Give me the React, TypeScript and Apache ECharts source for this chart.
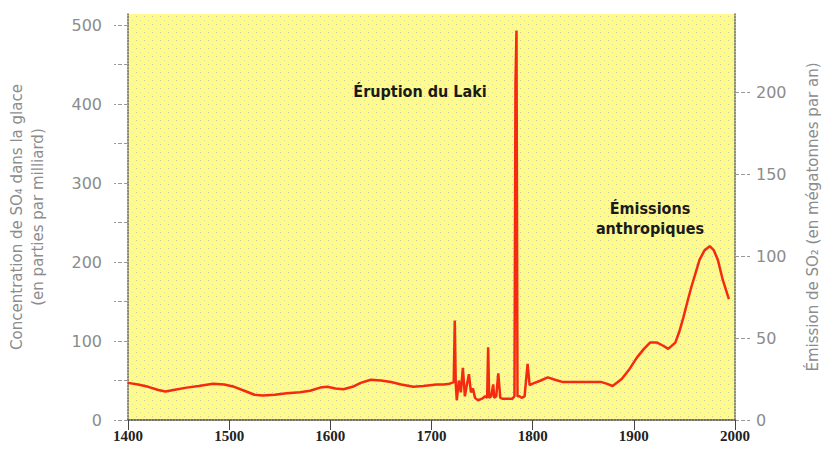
import React, { useEffect, useRef } from "react";
import * as echarts from "echarts";

// Year of each sample
const years = [
  1400, 1410, 1420, 1430, 1437, 1445, 1458, 1470, 1484, 1495, 1505, 1515, 1525, 1533, 1545, 1557,
  1570, 1580, 1590, 1597, 1605, 1613, 1622, 1630, 1640, 1650, 1660, 1670, 1682, 1692, 1705, 1712,
  1718, 1720, 1722, 1723, 1724, 1725, 1727, 1729, 1731, 1733, 1735, 1737, 1739, 1741, 1743, 1746,
  1750, 1753, 1755, 1756, 1757, 1759, 1761, 1762, 1764, 1766, 1768, 1770, 1780, 1782, 1783, 1784,
  1785, 1787, 1789, 1792, 1795, 1797, 1800, 1808, 1815, 1822, 1830, 1850, 1868, 1873, 1879, 1888,
  1896, 1903, 1910, 1916, 1923, 1929, 1934, 1941, 1945, 1949, 1953, 1957, 1961, 1965, 1970, 1975,
  1979, 1983, 1988, 1994,
];
// SO4 concentration in ice (parts per billion)
const so4 = [
  47, 45, 42, 38, 36, 38, 41, 43, 46, 45, 42, 37, 32, 31, 32, 34,
  35, 37, 41, 42, 40, 39, 42, 47, 51, 50, 48, 45, 42, 43, 45, 45,
  46, 47, 48, 126, 45, 25, 50, 35, 66, 30, 45, 58, 35, 40, 28, 25,
  27, 30, 28, 92, 28, 30, 45, 28, 30, 59, 28, 27, 27, 30, 425, 493,
  30, 30, 28, 30, 71, 44, 46, 50, 54, 51, 48, 48, 48, 46, 43, 52,
  65, 79, 90, 98, 98, 94, 90, 98, 112, 130, 150, 169, 186, 203, 215, 220,
  215, 203, 177, 153,
];

const xTicks = [1400, 1500, 1600, 1700, 1800, 1900, 2000];
const leftTicks = [0, 50, 100, 150, 200, 250, 300, 350, 400, 450, 500];
const leftLabels = [0, 100, 200, 300, 400, 500];
const rightTicks = [0, 50, 100, 150, 200];

const leftName = "Concentration de SO\u2084 dans la glace\n(en parties par milliard)";
const rightName = "\u00c9mission de SO\u2082 (en m\u00e9gatonnes par an)";
const note1 = "\u00c9ruption du Laki";
const note2 = "\u00c9missions\nanthropiques";

function makePattern(): any {
  const c = document.createElement("canvas");
  c.width = 8;
  c.height = 8;
  const ctx = c.getContext("2d");
  if (!ctx) return "#fff98e";
  ctx.fillStyle = "#fff98e";
  ctx.fillRect(0, 0, 8, 8);
  ctx.fillStyle = "#c8c8a4";
  ctx.fillRect(0, 0, 1, 1);
  ctx.fillStyle = "#c4f09c";
  ctx.fillRect(4, 4, 1, 1);
  return { image: c, repeat: "repeat" };
}

export default function App() {
  const ref = useRef<HTMLDivElement>(null);
  useEffect(() => {
    if (!ref.current) return;
    const chart = echarts.init(ref.current, null, { renderer: "svg" });
    const gray = "#8c8c8c";
    const border = { show: true, lineStyle: { color: "#666", type: "dotted" as const, width: 1.5 } };
    const sans = "DejaVu Sans, sans-serif";
    chart.setOption({
      animation: false,
      backgroundColor: "#ffffff",
      grid: {
        left: 128,
        right: 92,
        top: 14,
        bottom: 41,
        show: true,
        borderWidth: 0,
        containLabel: false,
        outerBoundsMode: "none",
        backgroundColor: makePattern(),
      },
      xAxis: [
        {
          type: "value",
          min: 1400,
          max: 2000,
          interval: 100,
          position: "bottom",
          axisLine: border,
          splitLine: { show: false },
          axisTick: { show: true, length: 10, lineStyle: { color: "#444" }, customValues: xTicks },
          axisLabel: {
            customValues: xTicks,
            formatter: (v: number) => String(v),
            margin: 8,
            color: "#222",
            fontFamily: "Liberation Serif, serif",
            fontSize: 15,
            fontWeight: "bold",
          },
        },
        {
          type: "value",
          min: 1400,
          max: 2000,
          position: "top",
          axisLine: border,
          splitLine: { show: false },
          axisTick: { show: false },
          axisLabel: { show: false },
        },
      ],
      yAxis: [
        {
          type: "value",
          min: 0,
          max: 514,
          position: "left",
          axisLine: border,
          splitLine: { show: false },
          axisTick: { show: true, length: 14, lineStyle: { color: "#999", type: "dashed" }, customValues: leftTicks },
          axisLabel: { customValues: leftLabels, margin: 26, color: gray, fontFamily: sans, fontSize: 16 },
          name: leftName,
          nameLocation: "middle",
          nameRotate: 90,
          nameGap: 80,
          nameTextStyle: { color: gray, fontFamily: sans, fontSize: 15, lineHeight: 21 },
        },
        {
          type: "value",
          min: 0,
          max: 248,
          position: "right",
          axisLine: border,
          splitLine: { show: false },
          axisTick: { show: true, length: 15, lineStyle: { color: "#999", type: "dashed" }, customValues: rightTicks },
          axisLabel: { customValues: rightTicks, margin: 21, color: gray, fontFamily: sans, fontSize: 16 },
          name: rightName,
          nameLocation: "middle",
          nameRotate: 90,
          nameGap: 70,
          nameTextStyle: { color: gray, fontFamily: sans, fontSize: 15 },
        },
      ],
      series: [
        {
          type: "line",
          xAxisIndex: 0,
          yAxisIndex: 0,
          data: years.map((y, i) => [y, so4[i]]),
          showSymbol: false,
          symbol: "none",
          lineStyle: { color: "#f52a10", width: 2.5 },
          z: 5,
        },
      ],
      graphic: [
        {
          type: "text",
          x: 420,
          y: 91,
          z: 10,
          style: {
            text: note1,
            fill: "#1a1a1a",
            font: "bold 16px 'DejaVu Sans Condensed', 'DejaVu Sans', sans-serif",
            align: "center",
            verticalAlign: "middle",
          },
        },
        {
          type: "text",
          x: 650,
          y: 218,
          z: 10,
          style: {
            text: note2,
            fill: "#1a1a1a",
            font: "bold 16px 'DejaVu Sans Condensed', 'DejaVu Sans', sans-serif",
            lineHeight: 20,
            align: "center",
            verticalAlign: "middle",
          },
        },
      ],
    });
    return () => chart.dispose();
  }, []);
  return (
    <div
      ref={ref}
      style={{ position: "fixed", left: 0, top: 0, width: 827, height: 461, background: "#fff" }}
    />
  );
}
